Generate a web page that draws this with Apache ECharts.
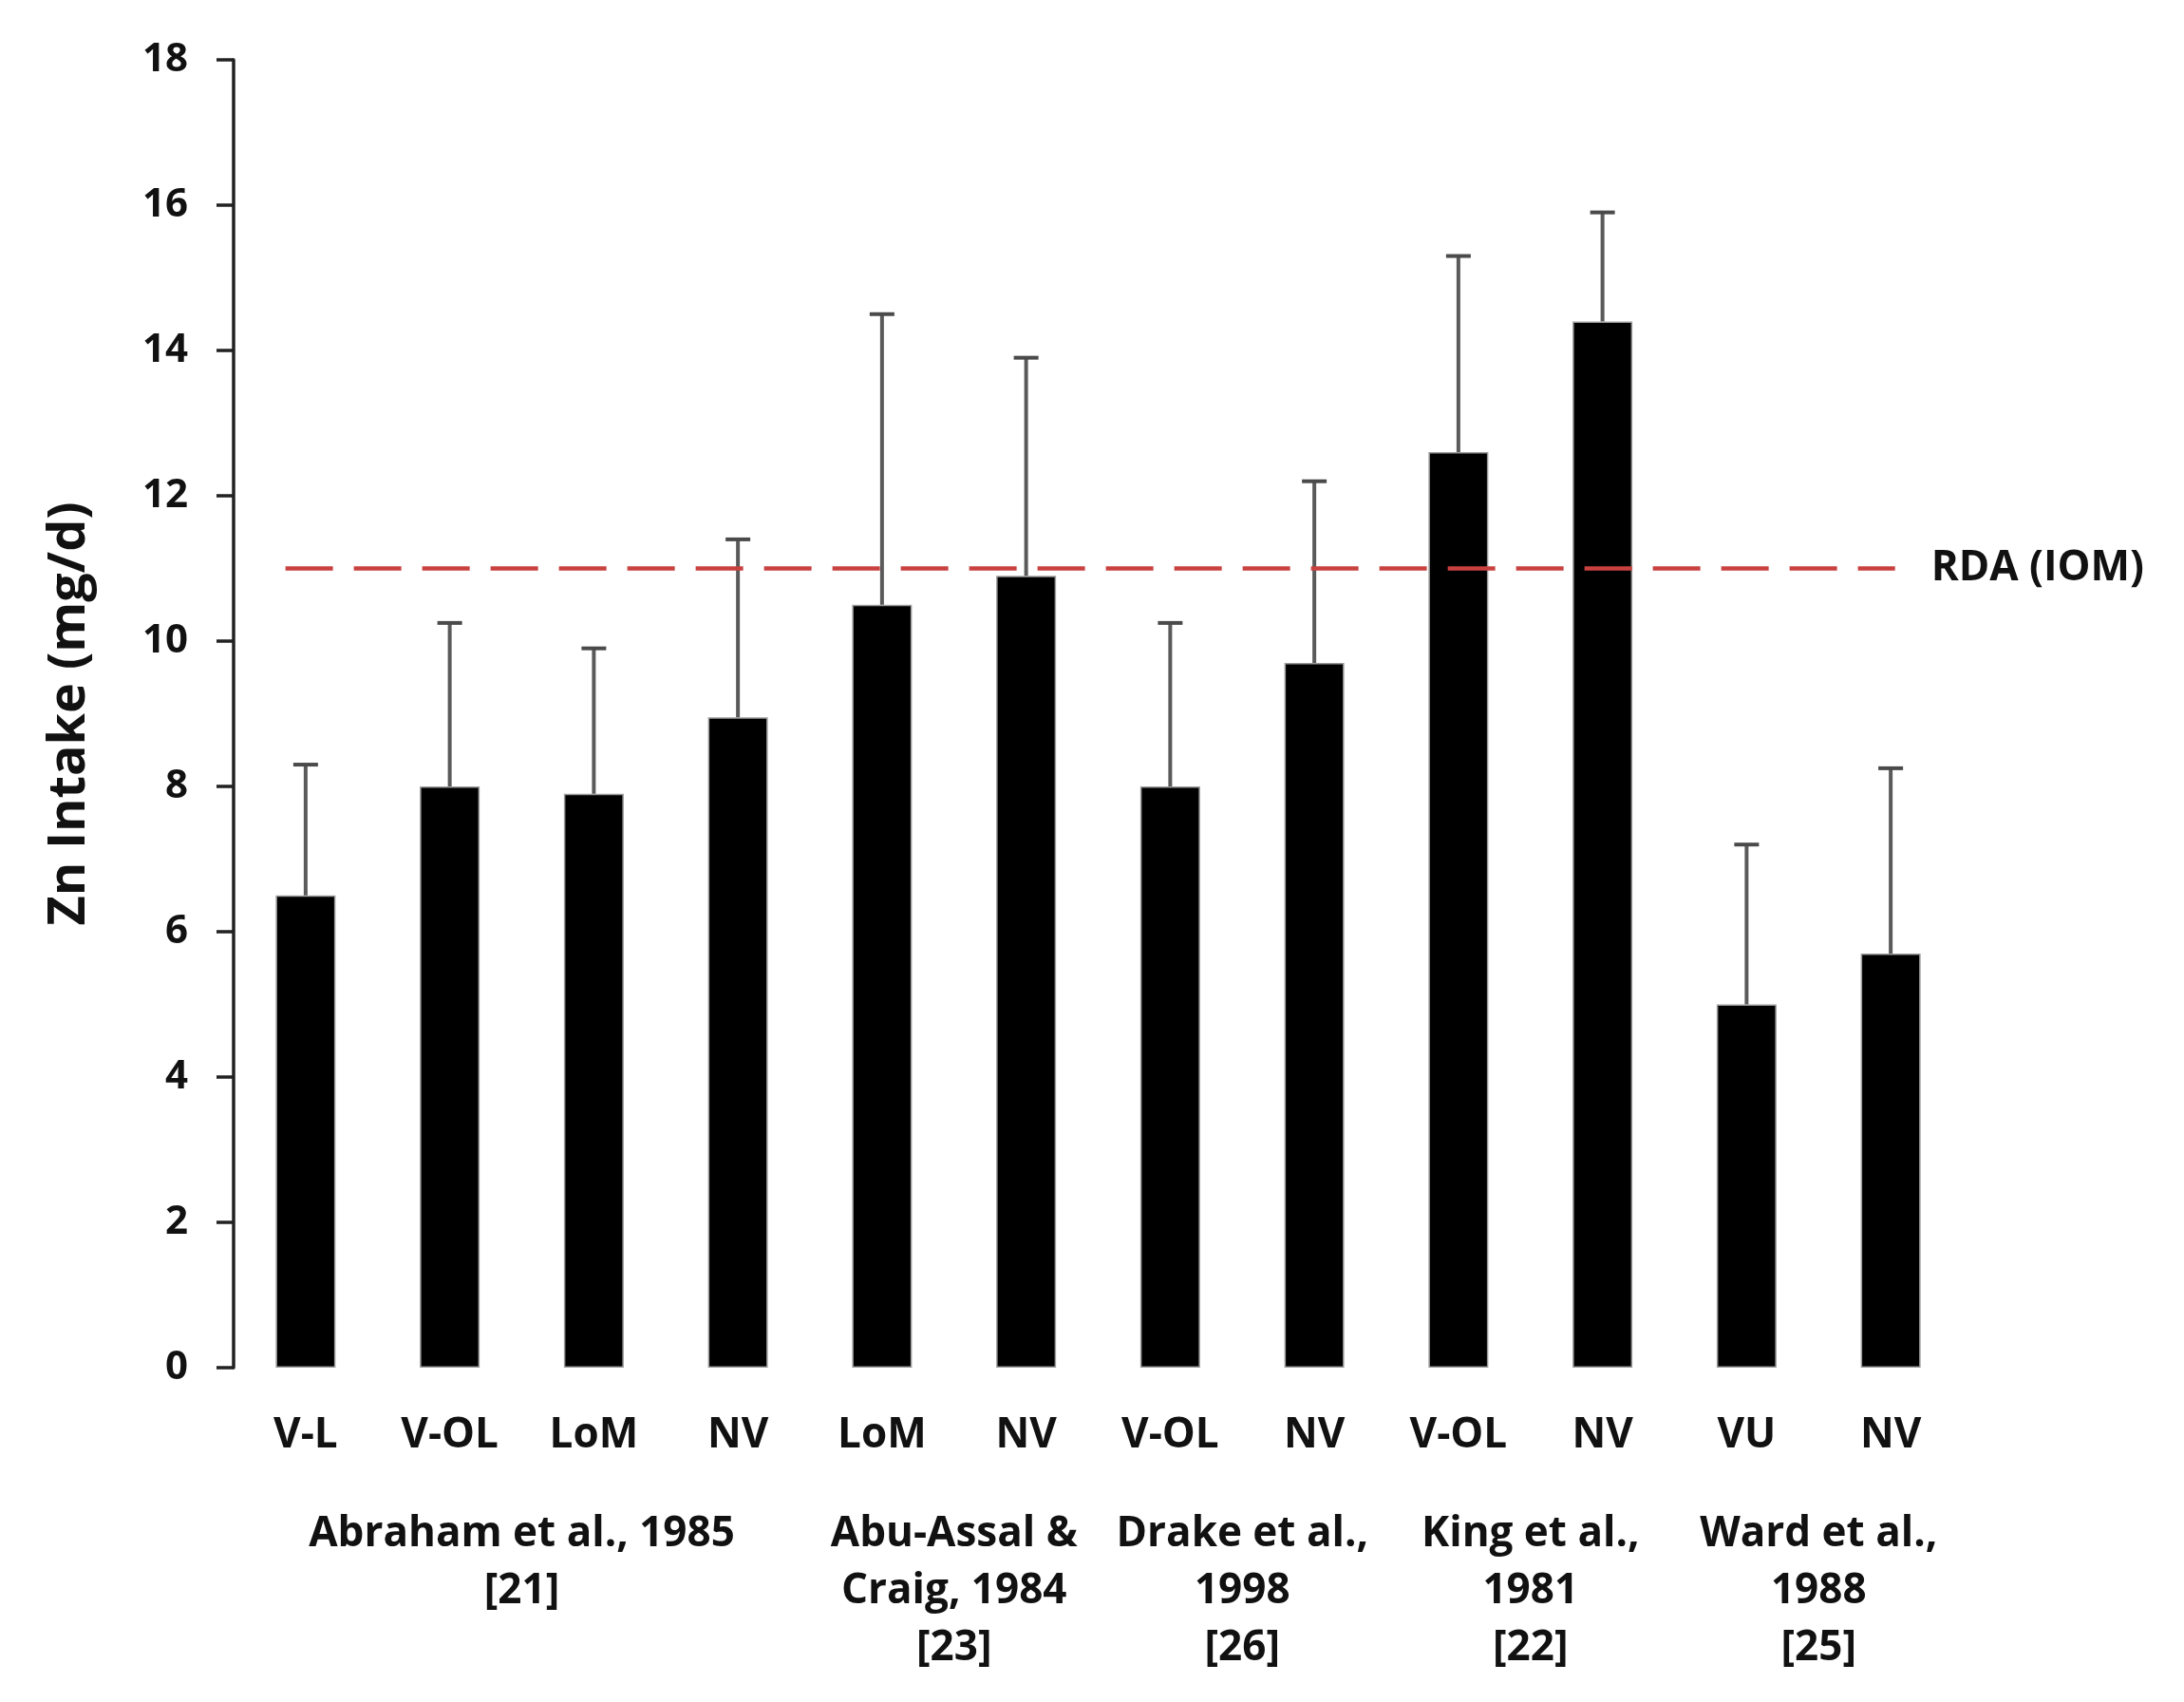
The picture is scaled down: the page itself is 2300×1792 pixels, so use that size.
<!DOCTYPE html>
<html>
<head>
<meta charset="utf-8">
<script src="https://cdn.jsdelivr.net/npm/echarts@6/dist/echarts.min.js"></script>
<style>
html,body{margin:0;padding:0;background:#fff;}
#chart{width:2300px;height:1792px;}
</style>
</head>
<body>
<div id="chart"></div>
<script>
// ---- data ----
const categories = ['V-L','V-OL','LoM','NV','LoM','NV','V-OL','NV','V-OL','NV','VU','NV'];
const meanIntake = [6.5, 8.0, 7.9, 8.95, 10.5, 10.9, 8.0, 9.7, 12.6, 14.4, 5.0, 5.7];
const sdIntake   = [1.8, 2.25, 2.0, 2.45, 4.0, 3.0, 2.25, 2.5, 2.7, 1.5, 2.2, 2.55];
const groupNames = ['Abraham et al., 1985\n[21]', 'Abu-Assal &\nCraig, 1984\n[23]', 'Drake et al.,\n1998\n[26]', 'King et al.,\n1981\n[22]', 'Ward et al.,\n1988\n[25]'];
const groupSizes = [4, 2, 2, 2, 2];
const rdaValue = 11;
const rdaLabel = 'RDA (IOM)';
const yTicks = [0, 2, 4, 6, 8, 10, 12, 14, 16, 18];

// group centres in category units
const groupCenters = [];
let acc = 0;
groupSizes.forEach(s => { groupCenters.push(acc + s / 2); acc += s; });

const errData = meanIntake.map((m, i) => [i, m, m + sdIntake[i]]);

const FONT = '"Open Sans", "DejaVu Sans", sans-serif';
const chart = echarts.init(document.getElementById('chart'));
chart.setOption({
  backgroundColor: '#ffffff',
  animation: false,
  grid: { left: 246, right: 233, top: 63, bottom: 352, containLabel: false },
  xAxis: [
    {
      type: 'category',
      data: categories,
      axisLine: { show: false },
      axisTick: { show: false },
      axisLabel: { interval: 0, margin: 41, fontFamily: FONT, fontWeight: 'bold', fontSize: 44, color: '#111', lineHeight: 60 }
    },
    {
      type: 'value',
      min: 0, max: categories.length, interval: 1,
      position: 'bottom',
      axisLine: { show: false },
      axisTick: { show: false },
      splitLine: { show: false },
      axisLabel: {
        margin: 145, fontFamily: FONT, fontWeight: 'bold', fontSize: 44, color: '#111', lineHeight: 60,
        showMinLabel: true, showMaxLabel: true,
        formatter: v => { const k = groupCenters.indexOf(v); return k >= 0 ? groupNames[k] : ''; }
      }
    }
  ],
  yAxis: {
    type: 'value',
    min: 0, max: 18, interval: 2,
    name: 'Zn Intake (mg/d)',
    nameLocation: 'middle',
    nameRotate: 90,
    nameGap: 145,
    nameTextStyle: { fontFamily: FONT, fontWeight: 'bold', fontSize: 54, color: '#111' },
    axisLine: { show: true, lineStyle: { color: '#222', width: 3.5 } },
    axisTick: { show: true, length: 18, lineStyle: { color: '#222', width: 3.5 } },
    splitLine: { show: false },
    axisLabel: { margin: 48, fontFamily: FONT, fontWeight: 'bold', fontSize: 42, color: '#111',
      formatter: v => yTicks.indexOf(v) >= 0 ? String(v) : '' }
  },
  series: [
    {
      type: 'bar',
      xAxisIndex: 0, yAxisIndex: 0,
      data: meanIntake,
      barWidth: 63,
      itemStyle: { color: '#000', borderColor: '#9a9a9a', borderWidth: 1.5 },
      z: 2
    },
    {
      type: 'custom',
      xAxisIndex: 0, yAxisIndex: 0,
      data: errData,
      z: 3,
      renderItem: function (params, api) {
        const base = api.coord([api.value(0), api.value(1)]);
        const top = api.coord([api.value(0), api.value(2)]);
        const half = 13;
        return {
          type: 'group',
          children: [
            { type: 'line', shape: { x1: base[0], y1: base[1], x2: top[0], y2: top[1] }, style: { stroke: '#5a5a5a', lineWidth: 4 } },
            { type: 'line', shape: { x1: top[0] - half, y1: top[1], x2: top[0] + half, y2: top[1] }, style: { stroke: '#4a4a4a', lineWidth: 4 } }
          ]
        };
      }
    },
    {
      type: 'line',
      xAxisIndex: 1, yAxisIndex: 0,
      data: [[0.36, rdaValue], [categories.length - 0.47, rdaValue]],
      symbol: 'none',
      lineStyle: { color: '#c8413f', width: 4.5, type: [50, 22] },
      z: 5,
      endLabel: { show: true, formatter: rdaLabel, distance: 38, fontFamily: FONT, fontWeight: 'bold', fontSize: 44, color: '#111' }
    }
  ]
});
</script>
</body>
</html>
